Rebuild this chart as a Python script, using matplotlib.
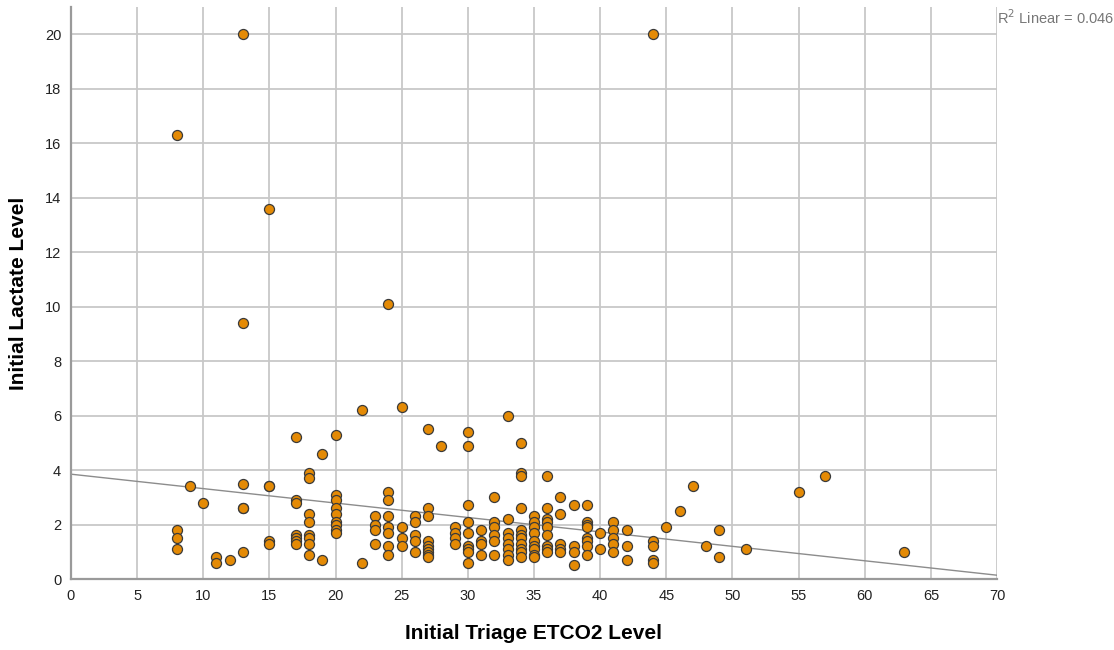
import numpy as np
import matplotlib
matplotlib.use("Agg")
import matplotlib.pyplot as plt

plt.rcParams['font.family'] = ['Liberation Sans', 'DejaVu Sans']

# Donnees (ETCO2, lactate)
etco2 = [13, 44, 8, 15, 13, 24, 22, 25, 33, 27, 30, 30, 28, 34, 17, 20, 19,
         18, 18, 9, 13, 15, 15, 10, 13, 13, 17, 17, 18, 18,
         20, 20, 20, 20, 20, 20, 20, 20,
         8, 8, 8, 11, 11, 12, 13, 15, 15, 17, 17, 17, 17, 18, 18, 18, 18, 19, 22,
         34, 34, 36, 24, 24, 23, 23, 23, 23, 24, 24, 24, 24, 24,
         25, 25, 25, 26, 26, 26, 26, 26, 27, 27, 27, 27, 27, 27, 27, 27,
         29, 29, 29, 29, 30, 30, 30, 30, 30, 30, 30,
         31, 31, 31, 31, 32, 32, 32, 32, 32, 32,
         33, 33, 33, 33, 33, 33, 33,
         34, 34, 34, 34, 34, 34, 34, 34,
         35, 35, 35, 35, 35, 35, 35, 35, 35,
         36, 36, 36, 36, 36, 36, 36, 36,
         37, 37, 37, 37, 37, 38, 38, 38, 38,
         39, 39, 39, 39, 39, 39, 39, 39,
         40, 40, 41, 41, 41, 41, 41, 42, 42, 42,
         44, 44, 44, 44, 45, 46, 47, 48, 49, 49, 51, 55, 57, 63]
lactate = [20.0, 20.0, 16.3, 13.6, 9.4, 10.1, 6.2, 6.3, 6.0, 5.5, 5.4, 4.9, 4.9, 5.0, 5.2, 5.3, 4.6,
           3.9, 3.7, 3.4, 3.5, 3.4, 3.4, 2.8, 2.6, 2.6, 2.9, 2.8, 2.4, 2.1,
           3.1, 2.9, 2.6, 2.4, 2.1, 2.0, 1.8, 1.7,
           1.8, 1.5, 1.1, 0.8, 0.6, 0.7, 1.0, 1.4, 1.3, 1.6, 1.5, 1.4, 1.3, 1.6, 1.5, 1.3, 0.9, 0.7, 0.6,
           3.9, 3.8, 3.8, 3.2, 2.9, 2.3, 2.0, 1.8, 1.3, 2.3, 1.9, 1.7, 1.2, 0.9,
           1.9, 1.5, 1.2, 2.3, 2.1, 1.6, 1.4, 1.0, 2.6, 2.3, 1.4, 1.2, 1.1, 1.0, 0.9, 0.8,
           1.9, 1.7, 1.5, 1.3, 2.7, 2.1, 1.7, 1.2, 1.1, 1.0, 0.6,
           1.8, 1.4, 1.3, 0.9, 3.0, 2.1, 1.9, 1.6, 1.4, 0.9,
           2.2, 1.7, 1.5, 1.3, 1.1, 0.9, 0.7,
           2.6, 1.8, 1.6, 1.5, 1.3, 1.1, 1.0, 0.8,
           2.3, 2.1, 1.9, 1.7, 1.4, 1.2, 1.1, 0.9, 0.8,
           2.6, 2.2, 2.1, 1.9, 1.6, 1.2, 1.1, 1.0,
           3.0, 2.4, 1.3, 1.1, 1.0, 2.7, 1.2, 1.0, 0.5,
           2.7, 2.1, 2.0, 1.9, 1.5, 1.4, 1.2, 0.9,
           1.7, 1.1, 2.1, 1.8, 1.5, 1.3, 1.0, 1.8, 1.2, 0.7,
           1.4, 1.2, 0.7, 0.6, 1.9, 2.5, 3.4, 1.2, 1.8, 0.8, 1.1, 3.2, 3.8, 1.0]

# Droite de regression
fit_intercept = 3.85
fit_slope = -0.053
r2_label = "R$^2$ Linear = 0.046"

x_ticks = np.arange(0, 71, 5)
y_ticks = np.arange(0, 21, 2)

fig = plt.figure(figsize=(11.14, 6.5), dpi=100)
ax = fig.add_axes([0.0637, 0.1092, 0.8313, 0.8798])

ax.set_xlim(0, 70)
ax.set_ylim(0, 21.0)
ax.set_xticks(x_ticks)
ax.set_yticks(y_ticks)
ax.grid(True, color='#c8c8c8', linewidth=1.3)
ax.set_axisbelow(True)

xl = np.array([0, 70])
ax.plot(xl, fit_intercept + fit_slope * xl, color='#8c8c8c', linewidth=1.0, zorder=2)

ax.scatter(etco2, lactate, s=52, color='#e48a05', edgecolors='#3a3a3a',
           linewidths=0.9, zorder=3)

for s in ['top', 'right']:
    ax.spines[s].set_visible(False)
for s in ['left', 'bottom']:
    ax.spines[s].set_color('#9a9a9a')
    ax.spines[s].set_linewidth(1.6)
ax.tick_params(length=0, labelsize=10.5, colors='#222222', pad=7)

ax.set_xlabel('Initial Triage ETCO2 Level', fontsize=15, fontweight='bold')
ax.set_ylabel('Initial Lactate Level', fontsize=15, fontweight='bold')
ax.xaxis.set_label_coords(0.5, -0.079)
ax.yaxis.set_label_coords(-0.046, 0.5)

ax.text(1.0, 0.981, r2_label, transform=ax.transAxes, fontsize=10.5,
        color='#777777', ha='left', va='center')

fig.savefig('out.png', dpi=100)
